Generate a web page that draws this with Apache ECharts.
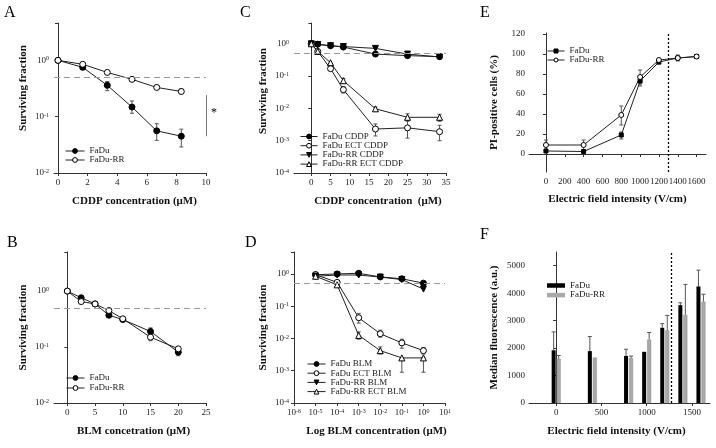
<!DOCTYPE html>
<html><head><meta charset="utf-8">
<script src="https://cdn.jsdelivr.net/npm/echarts@6/dist/echarts.min.js"></script>
<style>html,body{margin:0;padding:0;background:#fff}#c{width:716px;height:448px}</style>
</head><body><div id="c"></div>
<script>
const FONT = '"Liberation Serif","Times New Roman",serif';

// ---------- Panel A : CDDP concentration (µM) ----------
const aConc   = [0, 1.67, 3.33, 5, 6.67, 8.33];
const aFaDu   = [1, 0.75, 0.36, 0.148, 0.056, 0.045];
const aFaDuLo = [1, 0.70, 0.29, 0.115, 0.038, 0.029];
const aFaDuHi = [1, 0.81, 0.42, 0.19, 0.075, 0.06];
const aRR     = [1, 0.85, 0.61, 0.46, 0.33, 0.28];
const aRRLo   = [1, 0.85, 0.61, 0.46, 0.33, 0.255];
const aRRHi   = [1, 0.85, 0.61, 0.46, 0.33, 0.31];
const aTicks  = [0, 2, 4, 6, 8, 10];

// ---------- Panel B : BLM concentration (µM) ----------
const bConc   = [0, 2.5, 5, 7.5, 10, 15, 20];
const bFaDu   = [1, 0.76, 0.59, 0.37, 0.31, 0.19, 0.081];
const bFaDuLo = [1, 0.76, 0.59, 0.34, 0.31, 0.17, 0.07];
const bFaDuHi = [1, 0.76, 0.59, 0.40, 0.31, 0.22, 0.092];
const bRR     = [1, 0.65, 0.59, 0.45, 0.32, 0.15, 0.093];
const bRRLo   = [1, 0.65, 0.59, 0.45, 0.32, 0.13, 0.093];
const bRRHi   = [1, 0.65, 0.59, 0.45, 0.32, 0.17, 0.093];
const bTicks  = [0, 5, 10, 15, 20, 25];

// ---------- Panel C : CDDP with / without ECT ----------
const cConc     = [0, 1.67, 5, 8.33, 16.67, 25, 33.33];
const cFaDu     = [1, 0.97, 0.87, 0.79, 0.48, 0.43, 0.40];
const cFaDuECT  = [1, 0.58, 0.17, 0.038, 0.0023, 0.0025, 0.0019];
const cFaDuECTLo= [1, 0.58, 0.15, 0.030, 0.0014, 0.0012, 0.0010];
const cFaDuECTHi= [1, 0.58, 0.19, 0.047, 0.0033, 0.0045, 0.0030];
const cRR       = [1, 0.95, 0.87, 0.82, 0.72, 0.48, 0.39];
const cRRECT    = [1, 0.58, 0.26, 0.072, 0.0097, 0.0053, 0.0053];
const cRRECTLo  = [1, 0.58, 0.26, 0.060, 0.0085, 0.0040, 0.0040];
const cRRECTHi  = [1, 0.58, 0.26, 0.085, 0.0110, 0.0068, 0.0066];
const cTicks    = [0, 5, 10, 15, 20, 25, 30, 35];

// ---------- Panel D : BLM (log) with / without ECT ----------
const dConc     = [1e-5, 1e-4, 1e-3, 1e-2, 1e-1, 1];
const dFaDu     = [0.95, 1.0, 1.05, 0.81, 0.71, 0.52];
const dFaDuECT  = [0.95, 0.55, 0.044, 0.014, 0.0073, 0.0042];
const dFaDuECTLo= [0.95, 0.55, 0.030, 0.011, 0.0050, 0.0033];
const dFaDuECTHi= [0.95, 0.55, 0.060, 0.018, 0.0095, 0.0052];
const dRR       = [0.85, 0.93, 0.93, 0.80, 0.67, 0.34];
const dRRECT    = [0.85, 0.46, 0.0125, 0.0042, 0.0025, 0.0025];
const dRRECTLo  = [0.85, 0.46, 0.0095, 0.0033, 0.0009, 0.0009];
const dRRECTHi  = [0.85, 0.46, 0.0160, 0.0055, 0.0025, 0.0025];

// ---------- Panel E : PI-positive cells (%) ----------
const eField  = [0, 400, 800, 1000, 1200, 1400, 1600];
const eFaDu   = [3, 2.5, 19, 73, 92, 96, 97.5];
const eFaDuLo = [3, 2.5, 15, 68, 90, 96, 97.5];
const eFaDuHi = [3, 2.5, 22, 76, 94, 96, 97.5];
const eRR     = [9, 9, 39, 77, 94, 96, 97.5];
const eRRLo   = [4, 4, 29, 70, 94, 93, 97.5];
const eRRHi   = [14, 14, 48, 84, 94, 99, 97.5];
const eTicksX = [0, 200, 400, 600, 800, 1000, 1200, 1400, 1600];
const eTicksY = [0, 20, 40, 60, 80, 100, 120];

// ---------- Panel F : Median fluorescence (a.u.) ----------
const fField  = [0, 400, 800, 1000, 1200, 1400, 1600];
const fFaDu   = [1920, 1890, 1715, 1865, 2740, 3565, 4245];
const fFaDuHi = [2590, 2420, 1960, 1865, 2890, 3650, 4840];
const fRR     = [1620, 1655, 1640, 2310, 2650, 3210, 3690];
const fRRHi   = [1730, 1655, 1710, 2570, 3190, 4320, 3960];
const fTicksX = [0, 500, 1000, 1500];
const fTicksY = [0, 1000, 2000, 3000, 4000, 5000];

const threshold = 0.5;      // dashed IC50 line
const fieldMark = 1300;     // dotted line (V/cm)

// ---------------- helpers ----------------
const pair = (xs, ys) => xs.map((x, i) => [x, ys[i]]);
const errData = (xs, lo, hi) => xs.map((x, i) => [x, lo[i], hi[i]]).filter(d => d[1] !== d[2]);

function logFmt(v) {
  const e = Math.log10(v), r = Math.round(e);
  if (Math.abs(e - r) > 1e-6) return '';
  return '{b|10}{s|' + r + '}';
}
const logRich = {
  b: {fontFamily: FONT, fontSize: 9, color: '#222'},
  s: {fontFamily: FONT, fontSize: 6, color: '#222', verticalAlign: 'top'}
};
const nameStyle = (pad) => ({fontFamily: FONT, fontSize: 11, fontWeight: 'bold', color: '#111', padding: pad || 0});
const lineAx = {show: true, lineStyle: {color: '#333', width: 1}};
const tickAx = (vals) => ({show: true, length: 3, lineStyle: {color: '#333'}, customValues: vals});

function valAxis(g, min, max, ticks, name, gap, pad, margin) {
  return {type: 'value', gridIndex: g, min, max, name, nameLocation: 'middle', nameGap: gap,
    nameTextStyle: nameStyle(pad), axisLine: lineAx, axisTick: tickAx(ticks), splitLine: {show: false},
    axisLabel: {customValues: ticks, formatter: v => String(v), fontFamily: FONT, fontSize: 9, color: '#222', margin: margin || 5}};
}
function logAxis(g, min, max, name, gap, pad, margin) {
  return {type: 'log', logBase: 10, gridIndex: g, min, max, splitNumber: 10, name, nameLocation: 'middle', nameGap: gap,
    nameTextStyle: nameStyle(pad), axisLine: lineAx, axisTick: {show: true, length: 3, lineStyle: {color: '#333'}},
    splitLine: {show: false}, minorTick: {show: false},
    axisLabel: {formatter: logFmt, rich: logRich, margin: margin || 5}};
}
function errRender(offset, cap, upOnly) {
  return function (params, api) {
    const x = api.value(0), lo = api.value(1), hi = api.value(2);
    const a = api.coord([x, lo]), b = api.coord([x, hi]);
    const cx = a[0] + offset;
    const st = {stroke: '#555', lineWidth: 1};
    const ch = [
      {type: 'line', shape: {x1: cx, y1: a[1], x2: cx, y2: b[1]}, style: st},
      {type: 'line', shape: {x1: cx - cap, y1: b[1], x2: cx + cap, y2: b[1]}, style: st}
    ];
    if (!upOnly) ch.push({type: 'line', shape: {x1: cx - cap, y1: a[1], x2: cx + cap, y2: a[1]}, style: st});
    return {type: 'group', children: ch};
  };
}
function errSeries(g, data, offset, upOnly) {
  return {type: 'custom', xAxisIndex: g, yAxisIndex: g, data, encode: {x: 0, y: [1, 2]},
    renderItem: errRender(offset || 0, 2, upOnly), z: 1, silent: true};
}
const filled = {color: '#000', borderColor: '#000', borderWidth: 1};
const open = {color: '#fff', borderColor: '#000', borderWidth: 1};
function lineSeries(g, name, xs, ys, symbol, item, size, rotate, extra) {
  return Object.assign({type: 'line', name, xAxisIndex: g, yAxisIndex: g, data: pair(xs, ys),
    symbol, symbolSize: size || 6, symbolRotate: rotate || 0, showSymbol: true,
    lineStyle: {color: '#222', width: 1}, itemStyle: item, z: 3, silent: true}, extra || {});
}
const dashLine = {silent: true, symbol: 'none', label: {show: false},
  lineStyle: {color: '#999', type: [6, 4], width: 1.2}, data: [{yAxis: threshold}]};
const dotLine = {silent: true, symbol: 'none', label: {show: false},
  lineStyle: {color: '#000', type: [2, 2], width: 1.3}, data: [{xAxis: fieldMark}]};
function legend(names, left, top, w, gap, icon, ih) {
  const l = {orient: 'vertical', left, top, itemWidth: w, itemHeight: ih || 6, itemGap: gap, padding: 0,
    data: names, selectedMode: false, formatter: n => n.split('|')[1],
    itemStyle: {borderWidth: 1}, lineStyle: {width: 1},
    textStyle: {fontFamily: FONT, fontSize: 9, color: '#222'}};
  if (icon) { l.icon = icon; l.itemStyle = {borderWidth: 0}; }
  return l;
}

const chart = echarts.init(document.getElementById('c'), null, {renderer: 'canvas'});
const titleStyle = {fontFamily: FONT, fontSize: 16, fontWeight: 'normal', color: '#000'};
chart.setOption({
  animation: false,
  backgroundColor: '#fff',
  title: [
    {text: 'A', left: 4, top: 5, padding: 0, textStyle: titleStyle},
    {text: 'B', left: 7, top: 235, padding: 0, textStyle: titleStyle},
    {text: 'C', left: 240, top: 5, padding: 0, textStyle: titleStyle},
    {text: 'D', left: 245, top: 235, padding: 0, textStyle: titleStyle},
    {text: 'E', left: 480, top: 5, padding: 0, textStyle: titleStyle},
    {text: 'F', left: 480, top: 227, padding: 0, textStyle: titleStyle}
  ],
  grid: [
    {left: 54, top: 23, width: 152, height: 150},
    {left: 54, top: 252, width: 152, height: 151},
    {left: 294, top: 23, width: 152, height: 150},
    {left: 294, top: 252, width: 151, height: 151},
    {left: 529, top: 33, width: 177, height: 139},
    {left: 529, top: 252, width: 181, height: 151}
  ],
  xAxis: [
    valAxis(0, -0.27, 10, aTicks, 'CDDP concentration (\u03bcM)', 23, [0, 0, 0, 9]),
    valAxis(1, -2.4, 25, bTicks, 'BLM concetration (\u03bcM)', 23, [0, 0, 0, 7]),
    valAxis(2, -4.5, 35, cTicks, 'CDDP concentration  (\u03bcM)', 23, [0, 0, 0, 16]),
    logAxis(3, 1e-6, 10, 'Log BLM concentration (\u03bcM)', 23, [0, 0, 0, 14]),
    valAxis(4, -180, 1700, eTicksX, 'Electric field intensity (V/cm)', 22, 0),
    valAxis(5, -300, 1700, fTicksX, 'Electric field intensity (V/cm)', 23, [0, 6, 0, 0])
  ],
  yAxis: [
    logAxis(0, 0.01, 4.6, 'Surviving fraction', 25, [0, 0, 0, 20]),
    logAxis(1, 0.01, 5, 'Surviving fraction', 25, 0),
    logAxis(2, 1e-4, 4.4, 'Surviving fraction', 25, [0, 0, 0, 14]),
    logAxis(3, 1e-4, 4.8, 'Surviving fraction', 25, 0),
    valAxis(4, -18, 121, eTicksY, 'PI-positive cells (%)', 29, 0, 4),
    valAxis(5, 0, 5500, fTicksY, 'Median fluorescence (a.u.)', 29, 0, 4)
  ],
  legend: [
    legend(['A|FaDu', 'A|FaDu-RR'], 65, 146.5, 19, 0),
    legend(['B|FaDu', 'B|FaDu-RR'], 66, 373.5, 18, 1),
    legend(['C|FaDu CDDP', 'C|FaDu ECT CDDP', 'C|FaDu-RR CDDP', 'C|FaDu-RR ECT CDDP'], 300, 132, 17, 0.2),
    legend(['D|FaDu BLM', 'D|FaDu ECT BLM', 'D|FaDu-RR BLM', 'D|FaDu-RR ECT BLM'], 307, 359.5, 18, 0.2),
    legend(['E|FaDu', 'E|FaDu-RR'], 547, 46.5, 17, 0, null, 5),
    legend(['F|FaDu', 'F|FaDu-RR'], 547, 281, 18, 0.6, 'rect', 4.5)
  ],
  series: [
    // A
    errSeries(0, errData(aConc, aFaDuLo, aFaDuHi)),
    errSeries(0, errData(aConc, aRRLo, aRRHi)),
    lineSeries(0, 'A|FaDu', aConc, aFaDu, 'circle', filled, 6, 0, {
      markLine: dashLine}),
    lineSeries(0, 'A|FaDu-RR', aConc, aRR, 'circle', open, 6, 0, {
      markLine: {silent: true, symbol: 'none', label: {show: false}, lineStyle: {color: '#777', type: 'solid', width: 1},
        data: [[{coord: [10, 0.24]}, {coord: [10, 0.045]}]]},
      markPoint: {silent: true, symbol: 'circle', symbolSize: 0,
        label: {show: true, formatter: '*', position: 'right', distance: 5, fontFamily: FONT, fontSize: 12, color: '#000'},
        data: [{coord: [10, 0.115]}]}}),
    // B
    errSeries(1, errData(bConc, bFaDuLo, bFaDuHi)),
    errSeries(1, errData(bConc, bRRLo, bRRHi)),
    lineSeries(1, 'B|FaDu', bConc, bFaDu, 'circle', filled, 6, 0, {markLine: dashLine}),
    lineSeries(1, 'B|FaDu-RR', bConc, bRR, 'circle', open, 6),
    // C
    errSeries(2, errData(cConc, cFaDuECTLo, cFaDuECTHi)),
    errSeries(2, errData(cConc, cRRECTLo, cRRECTHi)),
    lineSeries(2, 'C|FaDu CDDP', cConc, cFaDu, 'circle', filled, 6, 0, {markLine: dashLine}),
    lineSeries(2, 'C|FaDu ECT CDDP', cConc, cFaDuECT, 'circle', open, 6),
    lineSeries(2, 'C|FaDu-RR CDDP', cConc, cRR, 'triangle', filled, 6, 180),
    lineSeries(2, 'C|FaDu-RR ECT CDDP', cConc, cRRECT, 'triangle', open, 6),
    // D
    errSeries(3, errData(dConc, dFaDuECTLo, dFaDuECTHi)),
    errSeries(3, errData(dConc, dRRECTLo, dRRECTHi)),
    lineSeries(3, 'D|FaDu BLM', dConc, dFaDu, 'circle', filled, 6, 0, {markLine: dashLine}),
    lineSeries(3, 'D|FaDu ECT BLM', dConc, dFaDuECT, 'circle', open, 6),
    lineSeries(3, 'D|FaDu-RR BLM', dConc, dRR, 'triangle', filled, 6, 180),
    lineSeries(3, 'D|FaDu-RR ECT BLM', dConc, dRRECT, 'triangle', open, 6),
    // E
    errSeries(4, errData(eField, eFaDuLo, eFaDuHi)),
    errSeries(4, errData(eField, eRRLo, eRRHi)),
    lineSeries(4, 'E|FaDu', eField, eFaDu, 'rect', filled, 4, 0, {markLine: dotLine}),
    lineSeries(4, 'E|FaDu-RR', eField, eRR, 'circle', open, 5),
    // F
    {type: 'bar', name: 'F|FaDu', xAxisIndex: 5, yAxisIndex: 5, data: pair(fField, fFaDu), barWidth: 4, barGap: '25%',
      itemStyle: {color: '#000'}, markLine: dotLine, silent: true, z: 2},
    {type: 'bar', name: 'F|FaDu-RR', xAxisIndex: 5, yAxisIndex: 5, data: pair(fField, fRR), barWidth: 4, barGap: '25%',
      itemStyle: {color: '#a9a9a9', borderColor: '#888', borderWidth: 0.5}, silent: true, z: 2},
    errSeries(5, errData(fField, fFaDu, fFaDuHi), -2.5, true),
    errSeries(5, errData(fField, fRR, fRRHi), 2.5, true)
  ]
});
</script></body></html>
